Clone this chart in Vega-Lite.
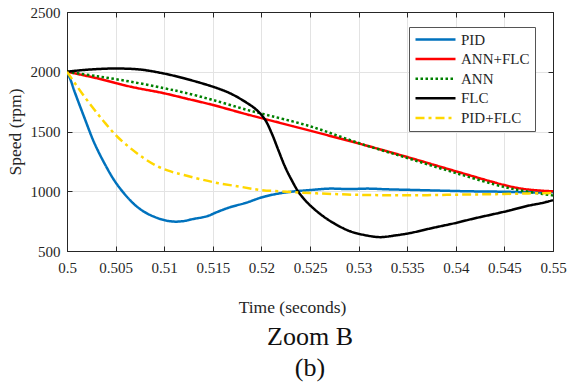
{
  "$schema": "https://vega.github.io/schema/vega-lite/v6.json",
  "autosize": {"type": "none"},
  "padding": {"left": 67, "top": 12, "right": 14, "bottom": 132},
  "width": 486,
  "height": 239,
  "background": "white",
  "title": {
    "text": ["Zoom B", "(b)"],
    "orient": "bottom",
    "anchor": "middle",
    "font": "Liberation Serif",
    "fontSize": 26,
    "fontWeight": "normal",
    "color": "#111",
    "lineHeight": 31,
    "offset": 8
  },
  "data": {
    "values": [
      {"t": 0.5, "v": 2000, "s": "PID"},
      {"t": 0.5004, "v": 1925, "s": "PID"},
      {"t": 0.50072, "v": 1847, "s": "PID"},
      {"t": 0.50175, "v": 1624, "s": "PID"},
      {"t": 0.50278, "v": 1410, "s": "PID"},
      {"t": 0.50381, "v": 1240, "s": "PID"},
      {"t": 0.50484, "v": 1094, "s": "PID"},
      {"t": 0.50586, "v": 983, "s": "PID"},
      {"t": 0.50689, "v": 893, "s": "PID"},
      {"t": 0.50792, "v": 829, "s": "PID"},
      {"t": 0.50895, "v": 787, "s": "PID"},
      {"t": 0.50998, "v": 759, "s": "PID"},
      {"t": 0.51101, "v": 746, "s": "PID"},
      {"t": 0.51204, "v": 751, "s": "PID"},
      {"t": 0.513, "v": 768, "s": "PID"},
      {"t": 0.51437, "v": 790, "s": "PID"},
      {"t": 0.5155, "v": 828, "s": "PID"},
      {"t": 0.51677, "v": 866, "s": "PID"},
      {"t": 0.51848, "v": 905, "s": "PID"},
      {"t": 0.52, "v": 948, "s": "PID"},
      {"t": 0.52157, "v": 978, "s": "PID"},
      {"t": 0.52328, "v": 998, "s": "PID"},
      {"t": 0.525, "v": 1010, "s": "PID"},
      {"t": 0.527, "v": 1022, "s": "PID"},
      {"t": 0.529, "v": 1018, "s": "PID"},
      {"t": 0.531, "v": 1022, "s": "PID"},
      {"t": 0.533, "v": 1016, "s": "PID"},
      {"t": 0.535, "v": 1012, "s": "PID"},
      {"t": 0.537, "v": 1008, "s": "PID"},
      {"t": 0.539, "v": 1004, "s": "PID"},
      {"t": 0.541, "v": 1000, "s": "PID"},
      {"t": 0.543, "v": 998, "s": "PID"},
      {"t": 0.545, "v": 996, "s": "PID"},
      {"t": 0.547, "v": 992, "s": "PID"},
      {"t": 0.549, "v": 990, "s": "PID"},
      {"t": 0.55, "v": 992, "s": "PID"},

      {"t": 0.5, "v": 2000, "s": "ANN+FLC"},
      {"t": 0.50312, "v": 1945, "s": "ANN+FLC"},
      {"t": 0.50655, "v": 1875, "s": "ANN+FLC"},
      {"t": 0.50998, "v": 1820, "s": "ANN+FLC"},
      {"t": 0.51204, "v": 1780, "s": "ANN+FLC"},
      {"t": 0.515, "v": 1722, "s": "ANN+FLC"},
      {"t": 0.51848, "v": 1644, "s": "ANN+FLC"},
      {"t": 0.52, "v": 1612, "s": "ANN+FLC"},
      {"t": 0.525, "v": 1507, "s": "ANN+FLC"},
      {"t": 0.53014, "v": 1397, "s": "ANN+FLC"},
      {"t": 0.53511, "v": 1284, "s": "ANN+FLC"},
      {"t": 0.54009, "v": 1165, "s": "ANN+FLC"},
      {"t": 0.545, "v": 1052, "s": "ANN+FLC"},
      {"t": 0.547, "v": 1019, "s": "ANN+FLC"},
      {"t": 0.549, "v": 1004, "s": "ANN+FLC"},
      {"t": 0.55, "v": 1000, "s": "ANN+FLC"},

      {"t": 0.5, "v": 2000, "s": "ANN"},
      {"t": 0.50312, "v": 1962, "s": "ANN"},
      {"t": 0.50655, "v": 1917, "s": "ANN"},
      {"t": 0.50998, "v": 1862, "s": "ANN"},
      {"t": 0.51204, "v": 1826, "s": "ANN"},
      {"t": 0.515, "v": 1764, "s": "ANN"},
      {"t": 0.51848, "v": 1682, "s": "ANN"},
      {"t": 0.52, "v": 1650, "s": "ANN"},
      {"t": 0.525, "v": 1544, "s": "ANN"},
      {"t": 0.53014, "v": 1400, "s": "ANN"},
      {"t": 0.53511, "v": 1276, "s": "ANN"},
      {"t": 0.54009, "v": 1150, "s": "ANN"},
      {"t": 0.545, "v": 1035, "s": "ANN"},
      {"t": 0.547, "v": 1002, "s": "ANN"},
      {"t": 0.55, "v": 965, "s": "ANN"},

      {"t": 0.5, "v": 2000, "s": "FLC"},
      {"t": 0.50175, "v": 2015, "s": "FLC"},
      {"t": 0.50484, "v": 2027, "s": "FLC"},
      {"t": 0.50758, "v": 2018, "s": "FLC"},
      {"t": 0.50998, "v": 1985, "s": "FLC"},
      {"t": 0.51204, "v": 1945, "s": "FLC"},
      {"t": 0.515, "v": 1875, "s": "FLC"},
      {"t": 0.51677, "v": 1820, "s": "FLC"},
      {"t": 0.51848, "v": 1741, "s": "FLC"},
      {"t": 0.51951, "v": 1680, "s": "FLC"},
      {"t": 0.52037, "v": 1600, "s": "FLC"},
      {"t": 0.52106, "v": 1485, "s": "FLC"},
      {"t": 0.52174, "v": 1345, "s": "FLC"},
      {"t": 0.52243, "v": 1205, "s": "FLC"},
      {"t": 0.52311, "v": 1094, "s": "FLC"},
      {"t": 0.5238, "v": 996, "s": "FLC"},
      {"t": 0.5245, "v": 925, "s": "FLC"},
      {"t": 0.5252, "v": 868, "s": "FLC"},
      {"t": 0.5262, "v": 800, "s": "FLC"},
      {"t": 0.5274, "v": 735, "s": "FLC"},
      {"t": 0.52912, "v": 665, "s": "FLC"},
      {"t": 0.53083, "v": 630, "s": "FLC"},
      {"t": 0.5322, "v": 616, "s": "FLC"},
      {"t": 0.53392, "v": 632, "s": "FLC"},
      {"t": 0.53529, "v": 650, "s": "FLC"},
      {"t": 0.53735, "v": 688, "s": "FLC"},
      {"t": 0.53854, "v": 709, "s": "FLC"},
      {"t": 0.54, "v": 735, "s": "FLC"},
      {"t": 0.54198, "v": 774, "s": "FLC"},
      {"t": 0.545, "v": 829, "s": "FLC"},
      {"t": 0.5474, "v": 878, "s": "FLC"},
      {"t": 0.54877, "v": 900, "s": "FLC"},
      {"t": 0.55, "v": 925, "s": "FLC"},

      {"t": 0.5, "v": 2000, "s": "PID+FLC"},
      {"t": 0.50106, "v": 1875, "s": "PID+FLC"},
      {"t": 0.50244, "v": 1722, "s": "PID+FLC"},
      {"t": 0.50381, "v": 1582, "s": "PID+FLC"},
      {"t": 0.50518, "v": 1456, "s": "PID+FLC"},
      {"t": 0.50655, "v": 1359, "s": "PID+FLC"},
      {"t": 0.50792, "v": 1276, "s": "PID+FLC"},
      {"t": 0.50929, "v": 1210, "s": "PID+FLC"},
      {"t": 0.51067, "v": 1166, "s": "PID+FLC"},
      {"t": 0.51204, "v": 1136, "s": "PID+FLC"},
      {"t": 0.515, "v": 1077, "s": "PID+FLC"},
      {"t": 0.5178, "v": 1038, "s": "PID+FLC"},
      {"t": 0.52, "v": 1010, "s": "PID+FLC"},
      {"t": 0.52263, "v": 996, "s": "PID+FLC"},
      {"t": 0.525, "v": 985, "s": "PID+FLC"},
      {"t": 0.5274, "v": 977, "s": "PID+FLC"},
      {"t": 0.53, "v": 970, "s": "PID+FLC"},
      {"t": 0.5325, "v": 967, "s": "PID+FLC"},
      {"t": 0.535, "v": 966, "s": "PID+FLC"},
      {"t": 0.5375, "v": 968, "s": "PID+FLC"},
      {"t": 0.54, "v": 971, "s": "PID+FLC"},
      {"t": 0.5425, "v": 974, "s": "PID+FLC"},
      {"t": 0.545, "v": 977, "s": "PID+FLC"},
      {"t": 0.5475, "v": 982, "s": "PID+FLC"},
      {"t": 0.55, "v": 985, "s": "PID+FLC"}
    ]
  },
  "layer": [
    {
      "mark": {"type": "line", "strokeWidth": 2.5, "interpolate": "catmull-rom", "clip": true},
      "encoding": {
        "x": {
          "field": "t", "type": "quantitative",
          "scale": {"domain": [0.5, 0.55], "nice": false, "zero": false},
          "axis": {
            "orient": "bottom",
            "title": "Time (seconds)",
            "values": [0.5, 0.505, 0.51, 0.515, 0.52, 0.525, 0.53, 0.535, 0.54, 0.545, 0.55],
            "format": ".3~f",
            "labelFont": "Liberation Serif",
            "titleFont": "Liberation Serif",
            "labelFlush": false,
            "labelOverlap": false,
            "labelPadding": 14,
            "titleX": 225,
            "titleY": 61,
            "titleAnchor": null,
            "titleAlign": "center",
            "titleBaseline": "alphabetic"
          }
        },
        "y": {
          "field": "v", "type": "quantitative",
          "scale": {"domain": [500, 2500], "nice": false, "zero": false},
          "axis": {
            "orient": "left",
            "title": "Speed (rpm)",
            "values": [500, 1000, 1500, 2000, 2500],
            "format": "d",
            "labelFont": "Liberation Serif",
            "titleFont": "Liberation Serif",
            "labelPadding": 12,
            "titleX": -52,
            "titleBaseline": "middle"
          }
        },
        "color": {
          "field": "s", "type": "nominal",
          "scale": {
            "domain": ["PID", "ANN+FLC", "ANN", "FLC", "PID+FLC"],
            "range": ["#0072BD", "#FF0000", "#008000", "#000000", "#FFD700"]
          },
          "legend": {"title": null}
        },
        "strokeDash": {
          "field": "s", "type": "nominal",
          "scale": {
            "domain": ["PID", "ANN+FLC", "ANN", "FLC", "PID+FLC"],
            "range": [[1, 0], [1, 0], [2.5, 2.5], [1, 0], [9, 4, 3, 4]]
          },
          "legend": {"title": null}
        }
      }
    },
    {
      "mark": {"type": "point", "opacity": 0},
      "encoding": {
        "x": {
          "field": "t", "type": "quantitative",
          "axis": {
            "orient": "top", "title": null, "labels": false, "grid": false,
            "values": [0.5, 0.505, 0.51, 0.515, 0.52, 0.525, 0.53, 0.535, 0.54, 0.545, 0.55]
          }
        },
        "y": {
          "field": "v", "type": "quantitative",
          "axis": {
            "orient": "right", "title": null, "labels": false, "grid": false,
            "values": [500, 1000, 1500, 2000, 2500]
          }
        }
      }
    }
  ],
  "resolve": {"axis": {"x": "independent", "y": "independent"}},
  "config": {
    "font": "Liberation Serif",
    "style": {
      "guide-label": {"font": "Liberation Serif"},
      "guide-title": {"font": "Liberation Serif"}
    },
    "view": {"stroke": "#262626", "strokeWidth": 1},
    "axis": {
      "labelFont": "Liberation Serif",
      "titleFont": "Liberation Serif",
      "labelFontSize": 15,
      "titleFontSize": 17.5,
      "labelFontWeight": "normal",
      "titleFontWeight": "normal",
      "labelColor": "#262626",
      "titleColor": "#262626",
      "domainColor": "#262626",
      "tickColor": "#262626",
      "tickSize": -5,
      "grid": true,
      "gridColor": "#e3e3e3",
      "gridWidth": 1
    },
    "legend": {
      "orient": "none",
      "legendX": 342,
      "legendY": 15,
      "symbolType": "stroke",
      "symbolSize": 1600,
      "symbolStrokeWidth": 2.5,
      "clipHeight": 15,
      "rowPadding": 3.6,
      "labelOffset": 4,
      "labelFont": "Liberation Serif",
      "labelFontSize": 15,
      "labelColor": "#262626",
      "strokeColor": "#555555",
      "fillColor": "white",
      "padding": 5
    }
  }
}
